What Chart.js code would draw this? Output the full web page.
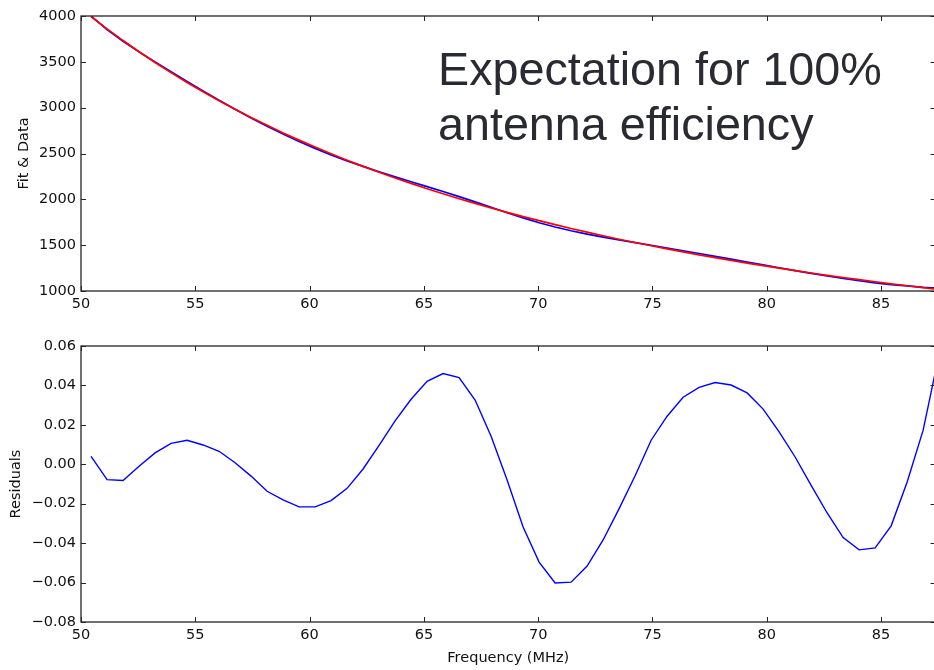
<!DOCTYPE html>
<html>
<head>
<meta charset="utf-8">
<script src="https://cdn.jsdelivr.net/npm/chart.js@4"></script>
<style>
  html, body { margin: 0; padding: 0; background: #fff; overflow: hidden; width: 934px; height: 670px; }
  #wrap { position: relative; width: 934px; height: 670px; }
  canvas { position: absolute; left: 0; }
  #fitCanvas { top: 0; }
  #residCanvas { top: 330px; }
  #note {
    position: absolute; left: 438px; top: 42px;
    font-family: "Liberation Sans", Arial, sans-serif; font-size: 46.7px;
    line-height: 55px; color: #2a2a33; white-space: nowrap;
  }
</style>
</head>
<body>
<div id="wrap">
  <canvas id="fitCanvas" width="960" height="321"></canvas>
  <canvas id="residCanvas" width="960" height="340"></canvas>
  <div id="note">Expectation for 100%<br>antenna efficiency</div>
</div>
<script>
// frequency channels (MHz)
const freqMHz = [
  50.44, 51.14, 51.84, 52.54, 53.24, 53.94, 54.64, 55.34, 56.04, 56.74,
  57.44, 58.14, 58.84, 59.54, 60.24, 60.94, 61.64, 62.34, 63.04, 63.74,
  64.44, 65.14, 65.84, 66.54, 67.24, 67.94, 68.64, 69.34, 70.04, 70.74,
  71.44, 72.14, 72.84, 73.54, 74.24, 74.94, 75.64, 76.34, 77.04, 77.74,
  78.44, 79.14, 79.84, 80.54, 81.24, 81.94, 82.64, 83.34, 84.04, 84.74,
  85.44, 86.14, 86.84, 87.54
];

// measured spectrum
const dataTemp = [
  3999, 3852, 3724, 3609, 3498, 3391, 3285, 3181, 3080, 2983,
  2888, 2797, 2712, 2632, 2556, 2485, 2420, 2359, 2301, 2245,
  2192, 2138, 2085, 2029, 1972, 1913, 1854, 1798, 1745, 1698,
  1657, 1621, 1588, 1556, 1527, 1499, 1469, 1439, 1409, 1378,
  1347, 1316, 1285, 1254, 1223, 1193, 1164, 1136, 1112, 1089,
  1070, 1055, 1040, 1031
];

// model fit
const fitTemp = [
  3995, 3860, 3732, 3610, 3493, 3382, 3275, 3173, 3075, 2982,
  2892, 2807, 2724, 2646, 2570, 2497, 2427, 2360, 2295, 2233,
  2174, 2116, 2061, 2007, 1956, 1906, 1858, 1812, 1767, 1724,
  1682, 1642, 1603, 1565, 1529, 1494, 1460, 1427, 1395, 1364,
  1334, 1304, 1276, 1249, 1222, 1196, 1171, 1147, 1124, 1101,
  1078, 1057, 1036, 1015
];

const residuals = [
  0.0040, -0.0078, -0.0082, -0.0010, 0.0058, 0.0106, 0.0122, 0.0098, 0.0066, 0.0008,
  -0.0060, -0.0137, -0.0180, -0.0216, -0.0216, -0.0184, -0.0122, -0.0024, 0.0096, 0.0220,
  0.0330, 0.0421, 0.0460, 0.0440, 0.0326, 0.0142, -0.0080, -0.0318, -0.0496, -0.0602,
  -0.0598, -0.0516, -0.0384, -0.0225, -0.0058, 0.0122, 0.0244, 0.0340, 0.0390, 0.0415,
  0.0402, 0.0362, 0.0280, 0.0164, 0.0037, -0.0107, -0.0247, -0.0372, -0.0434, -0.0424,
  -0.0312, -0.0090, 0.0173, 0.0560
];

const X_MIN = 50;
const X_MAX = 87.38;
const X_STEP = 5;
const FIT_Y_MIN = 1000, FIT_Y_MAX = 4000, FIT_Y_STEP = 500;
const RES_Y_MIN = -0.08, RES_Y_MAX = 0.06, RES_Y_STEP = 0.02;

const AXIS_COLOR = "#262626";
const TEXT_COLOR = "#111";
const TICK_FONT = { family: "DejaVu Sans", size: 14.5 };
const TITLE_FONT = { family: "DejaVu Sans", size: 14.5 };

Chart.defaults.color = TEXT_COLOR;
Chart.defaults.animation = false;

function toPoints(ys) {
  return freqMHz.map((f, i) => ({ x: f, y: ys[i] }));
}

// matplotlib style box: frame on all four sides, ticks pointing inwards
const boxFrame = {
  id: "boxFrame",
  afterDraw(chart) {
    const { ctx, chartArea: a, scales } = chart;
    const len = 5;
    ctx.save();
    ctx.strokeStyle = AXIS_COLOR;
    ctx.lineWidth = 1;
    ctx.beginPath();
    scales.x.ticks.forEach((t) => {
      const px = Math.round(scales.x.getPixelForValue(t.value)) + 0.5;
      ctx.moveTo(px, a.bottom);
      ctx.lineTo(px, a.bottom - len);
      ctx.moveTo(px, a.top);
      ctx.lineTo(px, a.top + len);
    });
    scales.y.ticks.forEach((t) => {
      const py = Math.round(scales.y.getPixelForValue(t.value)) + 0.5;
      ctx.moveTo(a.left, py);
      ctx.lineTo(a.left + len, py);
      ctx.moveTo(a.right, py);
      ctx.lineTo(a.right - len, py);
    });
    ctx.stroke();
    ctx.lineWidth = 1.3;
    ctx.strokeRect(a.left, a.top, a.right - a.left, a.bottom - a.top);
    ctx.restore();
  },
};

function xScale(axisHeight, title) {
  return {
    type: "linear",
    min: X_MIN,
    max: X_MAX,
    grid: { display: false, drawTicks: false },
    border: { display: false },
    ticks: {
      stepSize: X_STEP,
      includeBounds: false,
      padding: 5,
      font: TICK_FONT,
      color: TEXT_COLOR,
      maxRotation: 0,
      callback: (v) => String(v),
    },
    title: title
      ? { display: true, text: title, font: TITLE_FONT, color: TEXT_COLOR, padding: { top: 0, bottom: 3 } }
      : { display: false },
    afterFit(scale) {
      scale.height = axisHeight;
    },
  };
}

function yScale(min, max, step, title, titlePad, fmt) {
  return {
    type: "linear",
    min,
    max,
    grid: { display: false, drawTicks: false },
    border: { display: false },
    ticks: { stepSize: step, padding: 5, font: TICK_FONT, color: TEXT_COLOR, callback: fmt },
    title: { display: true, text: title, font: TITLE_FONT, color: TEXT_COLOR, padding: { top: titlePad, bottom: 0 } },
    afterFit(scale) {
      scale.width = 81;
    },
  };
}

const commonOpts = {
  responsive: false,
  devicePixelRatio: 1,
  plugins: { legend: { display: false }, tooltip: { enabled: false } },
  elements: { point: { radius: 0 }, line: { tension: 0 } },
};

new Chart(document.getElementById("fitCanvas"), {
  type: "line",
  data: {
    datasets: [
      { label: "Fit", data: toPoints(fitTemp), borderColor: "#ff0000", borderWidth: 1.7, order: 0 },
      { label: "Data", data: toPoints(dataTemp), borderColor: "#0000ff", borderWidth: 1.7, order: 1 },
    ],
  },
  options: {
    ...commonOpts,
    layout: { padding: { top: 16, right: 24.5, left: 0, bottom: 0 } },
    scales: {
      x: xScale(30, null),
      y: yScale(FIT_Y_MIN, FIT_Y_MAX, FIT_Y_STEP, "Fit & Data", 16, (v) => String(v)),
    },
  },
  plugins: [boxFrame],
});

new Chart(document.getElementById("residCanvas"), {
  type: "line",
  data: {
    datasets: [
      { label: "Residuals", data: toPoints(residuals), borderColor: "#0000ff", borderWidth: 1.4 },
    ],
  },
  options: {
    ...commonOpts,
    layout: { padding: { top: 16, right: 24.5, left: 0, bottom: 0 } },
    scales: {
      x: xScale(48, "Frequency (MHz)"),
      y: yScale(RES_Y_MIN, RES_Y_MAX, RES_Y_STEP, "Residuals", 8, (v) => Number(v).toFixed(2).replace("-", "\u2212")),
    },
  },
  plugins: [boxFrame],
});
</script>
</body>
</html>
